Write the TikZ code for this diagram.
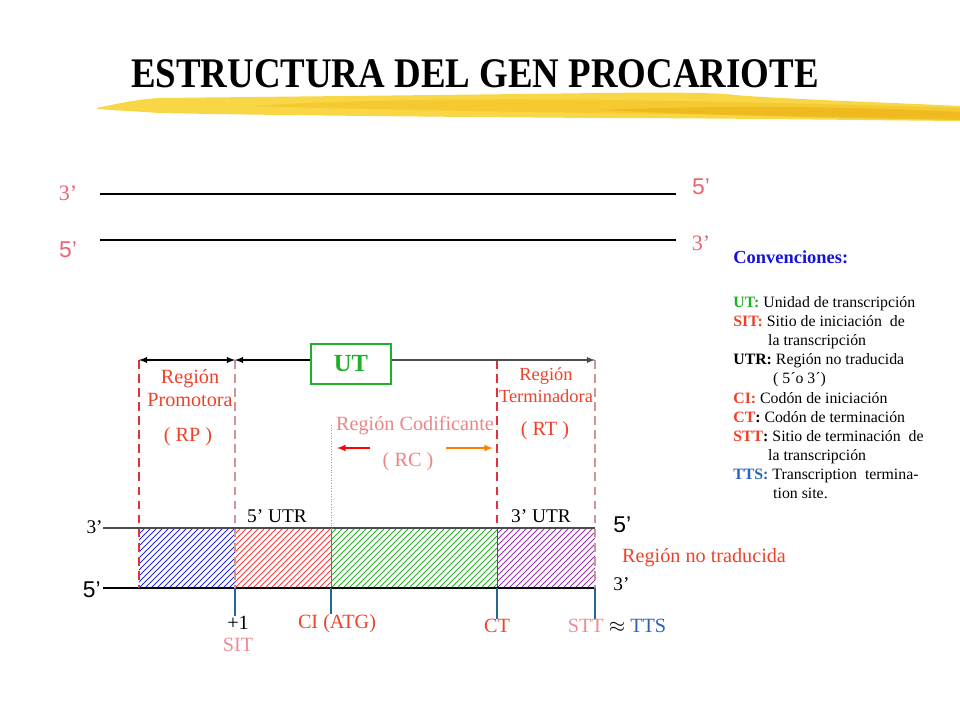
\documentclass[tikz,border=0pt]{standalone}
\usepackage{fontspec}
\setmainfont{Liberation Serif}
\setsansfont{Liberation Sans}
\usetikzlibrary{arrows,positioning,calc}
\definecolor{strandpink}{RGB}{236,100,112}
\definecolor{labred}{RGB}{238,66,40}
\definecolor{codpink}{RGB}{236,132,132}
\definecolor{sitpink}{RGB}{236,140,150}
\definecolor{guidered}{RGB}{222,50,60}
\definecolor{guidebrown}{RGB}{206,150,150}
\definecolor{tickblue}{RGB}{40,100,150}
\definecolor{ttsblue}{RGB}{40,100,190}
\definecolor{convblue}{RGB}{20,20,220}
\definecolor{utgreen}{RGB}{30,176,40}
\definecolor{hblue}{RGB}{40,40,230}
\definecolor{hred}{RGB}{240,60,60}
\definecolor{hgreen}{RGB}{40,170,40}
\definecolor{hpurple}{RGB}{150,50,175}
\definecolor{brushA}{RGB}{248,214,70}
\definecolor{brushB}{RGB}{244,196,40}
\definecolor{brushC}{RGB}{236,176,20}
\newcommand{\fsz}[2]{\fontsize{#1}{#2}\selectfont}

\begin{document}
\begin{tikzpicture}[x=0.02cm, y=-0.02cm, >=latex, every node/.style={inner sep=0pt},
  strand/.style={draw=black, line width=0.6pt},
  lbl/.style={text=labred, align=center, font=\fsz{11.5}{13.5}},
  blk/.style={font=\fsz{11}{13}},
  sans/.style={font=\sffamily\fsz{13}{13}},
  guide/.style={dashed, dash pattern=on 5pt off 3pt, line width=0.7pt},
  tick/.style={draw=tickblue, line width=0.6pt},
  hatchline/.style={draw=#1, line width=0.45pt},
  dim/.style={line width=0.6pt}]
  \useasboundingbox (0,0) rectangle (960,720);

  % Title and brush stroke
  \fill[brushA] (97,108) .. controls (120,103) and (140,99) .. (160,98)
    .. controls (250,97) and (450,95) .. (600,93) .. controls (680,92) and (720,93) .. (735,95)
    .. controls (780,99) and (900,103) .. (960,106) -- (960,121)
    .. controls (850,120) and (700,118) .. (600,118)
    .. controls (450,117) and (250,115) .. (160,113) .. controls (130,111) and (110,110) .. (97,109) -- cycle;
  \fill[brushB, opacity=0.7] (250,106) .. controls (400,97) and (600,97) .. (960,108) -- (960,118)
    .. controls (700,114) and (450,112) .. (250,106) -- cycle;
  \fill[brushC, opacity=0.6] (600,110) .. controls (750,104) and (880,108) .. (960,112) -- (960,120)
    .. controls (850,118) and (720,116) .. (600,110) -- cycle;
  \node[font=\bfseries\fsz{24}{24}, xscale=0.875] (title) at (475,74) {ESTRUCTURA DEL GEN PROCARIOTE};

  % Double strand
  \coordinate (s1l) at (100,194); \coordinate (s1r) at (676,194);
  \coordinate (s2l) at (100,240); \coordinate (s2r) at (676,240);
  \draw[strand] (s1l) -- (s1r);
  \draw[strand] (s2l) -- (s2r);
  \node[text=strandpink, font=\fsz{12.5}{13}] (e3l) at (68,193) {3’};
  \node[text=strandpink, sans] (e5l) at (68,250) {5’};
  \node[text=strandpink, sans] (e5r) at (701,187) {5’};
  \node[text=strandpink, font=\fsz{12.5}{13}] (e3r) at (701,243) {3’};

  % Conventions
  \node[anchor=west, text=convblue, font=\bfseries\fsz{10.5}{12}] (conv) at (733,257) {Convenciones:};
  \node[anchor=north west, align=left, font=\fsz{9}{10.9}] (leg) at (733,296) {%
    {\color{utgreen}\textbf{UT:}} Unidad de transcripción\\
    {\color{labred}\textbf{SIT:}} Sitio de iniciación\ \ de\\
    \hspace*{19.8pt}la transcripción\\
    \textbf{UTR:} Región no traducida\\
    \hspace*{22.7pt}( 5´o 3´)\\
    {\color{labred}\textbf{CI:}} Codón de iniciación\\
    {\color{labred}\textbf{CT}}\textbf{:} Codón de terminación\\
    {\color{labred}\textbf{STT}}\textbf{:} Sitio de terminación\ \ de\\
    \hspace*{19.8pt}la transcripción\\
    {\color{ttsblue}\textbf{TTS:}} Transcription\ \ termina-\\
    \hspace*{22.7pt}tion site.};

  % Gene regions
  \foreach \n/\x in {a/139,b/235,c/331,d/497,e/595} {
    \coordinate (top\n) at (\x,528);
    \coordinate (bot\n) at (\x,588);
  }
  \coordinate (u0) at (103,528); \coordinate (l0) at (103,588);
  \foreach \l/\r/\c in {a/b/hblue,b/c/hred,c/d/hgreen,d/e/hpurple} {
    \begin{scope}
      \clip (top\l) rectangle (bot\r);
      \foreach \s in {-60,-54,...,170}
        \draw[hatchline=\c] ($(bot\l)+(\s,0)$) -- ++(60,-60);
    \end{scope}
  }
  \draw[hred, line width=0.5pt] (topc) -- (botc);
  \draw[hgreen!70!black, line width=0.5pt] (topd) -- (botd);
  \draw[strand, draw=black!70] (u0) -- (tope);
  \draw[strand] (l0) -- (bote);
  \node[blk, anchor=east] (g3l) at (103,527) {3’};
  \node[sans, anchor=east] (g5l) at (101,590) {5’};
  \node[sans, anchor=west] (g5r) at (613,525) {5’};
  \node[blk, anchor=west] (g3r) at (613,584) {3’};
  \node[blk] (utr5) at (277,516) {5’ UTR};
  \node[blk] (utr3) at (541,516) {3’ UTR};
  \node[lbl] (notrad) at (704,558) {Región no traducida};

  % Guides and span arrows
  \coordinate (ga) at (139,360); \coordinate (gb) at (235,360);
  \coordinate (gc) at (331,425);
  \coordinate (gd) at (497,360); \coordinate (ge) at (595,360);
  \draw[guide, guidered] (ga) -- (bota);
  \draw[guide, guidebrown] (gb) -- (botb);
  \draw[guide, guidered] (gd) -- (topd);
  \draw[guide, guidebrown] (ge) -- (bote);
  \draw[densely dotted, codpink, line width=0.5pt] (gc) -- (topc);
  \node[draw=utgreen, line width=0.9pt, minimum width=1.6cm, minimum height=0.8cm,
    text=utgreen, font=\bfseries\fsz{14}{14}] (ut) at (351,364) {UT};
  \draw[dim, <->] (ga) -- (gb);
  \draw[dim, <-] (gb) -- (gb -| ut.west);
  \draw[dim, ->, black!70] (ge -| ut.east) -- (ge);

  % Region labels
  \node[lbl] (rp) at (190,388) {Región\\Promotora};
  \node[lbl] (rpab) at (188,437) {( RP )};
  \node[lbl, font=\fsz{10.5}{12.5}] (rt) at (546,385) {Región\\Terminadora};
  \node[lbl] (rtab) at (545,431) {( RT )};
  \node[lbl, text=codpink] (rc) at (415,426) {Región Codificante};
  \node[lbl, text=codpink] (rcab) at (408,462) {( RC )};
  \coordinate (rcl) at (370,448); \coordinate (rcr) at (446,448);
  \draw[->, red, line width=0.7pt] (rcl) -- ++(-33,0);
  \draw[->, orange, line width=0.7pt] (rcr) -- ++(47,0);

  % Sites below the strand
  \node[blk, font=\fsz{11.5}{13}] (plus) at (238,623) {+1};
  \node[lbl, text=sitpink, below=0.15cm of plus] (sit) {SIT};
  \node[lbl] (ci) at (337,624) {CI (ATG)};
  \node[lbl] (ct) at (497,626) {CT};
  \node[lbl] (stt) at (617,626) {{\color{sitpink}STT} {\color{black}$\approx$} {\color{ttsblue}TTS}};
  \draw[tick] (botb) -- (botb |- plus.north);
  \draw[tick] (botc) -- (botc |- ci.north);
  \draw[tick] (botd) -- (ct.north);
  \draw[tick] (bote) -- (bote |- stt.north);
\end{tikzpicture}
\end{document}
